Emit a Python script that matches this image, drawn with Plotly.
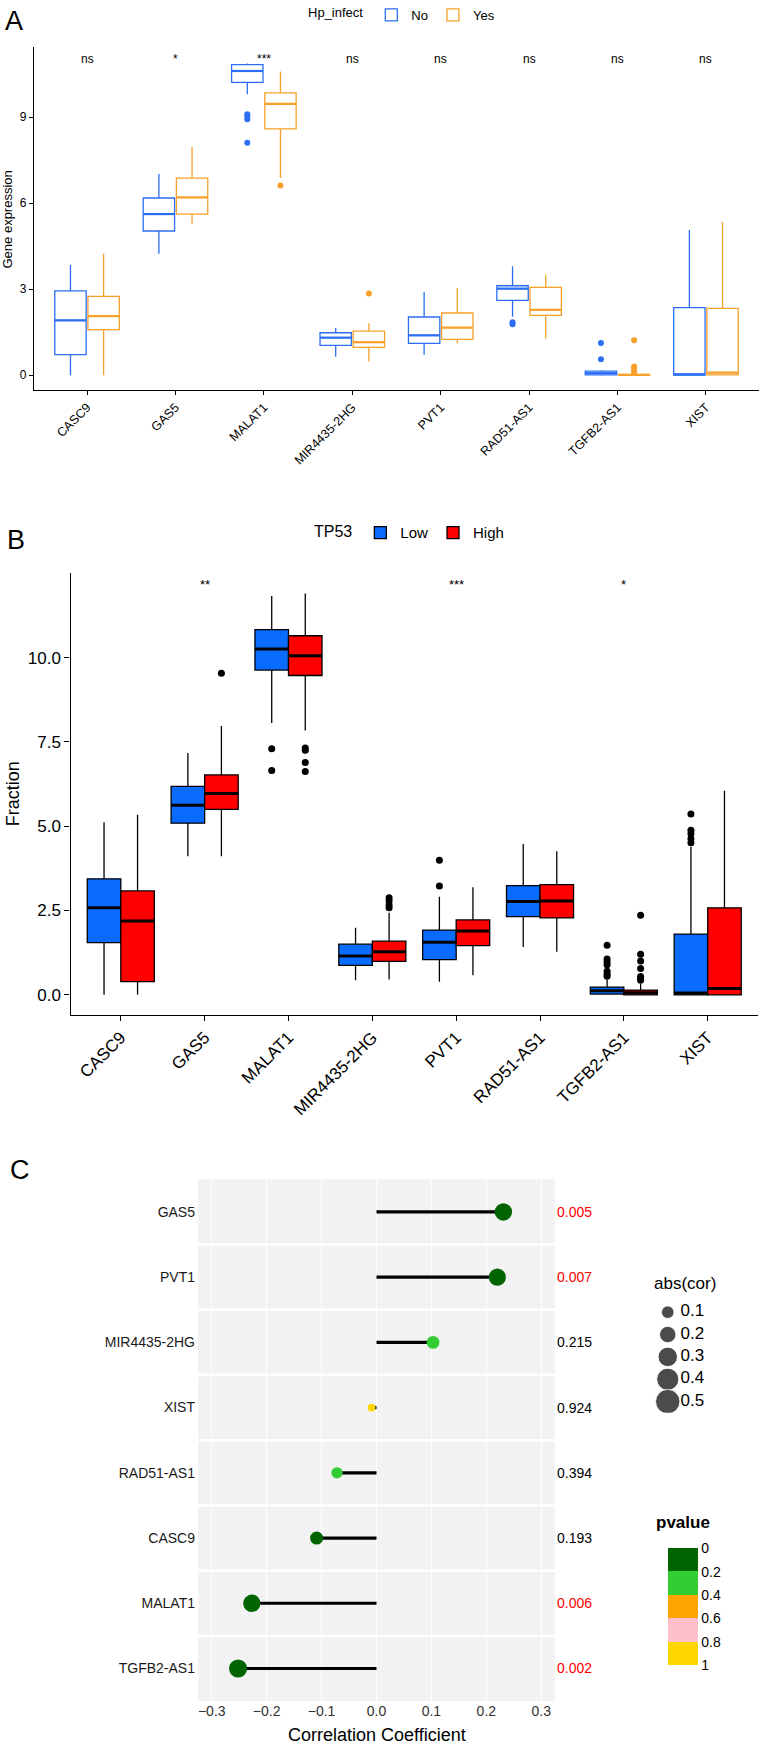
import plotly.graph_objects as go

W, H = 762, 1747
FONT = "Liberation Sans, Arial, Helvetica, sans-serif"

def px_x(p):
    return p / W

def px_y(p):
    return 1 - p / H

# ---------------- data ----------------
genes = ["CASC9", "GAS5", "MALAT1", "MIR4435-2HG", "PVT1", "RAD51-AS1", "TGFB2-AS1", "XIST"]

# Panel A : Hp_infect No / Yes
a_no_lo = [0.00, 4.24, 9.80, 0.64, 0.71, 2.04, 0.00, 0.00]
a_no_q1 = [0.72, 5.03, 10.21, 1.04, 1.11, 2.61, 0.01, 0.00]
a_no_med = [1.91, 5.62, 10.61, 1.31, 1.39, 3.02, 0.07, 0.03]
a_no_q3 = [2.94, 6.18, 10.83, 1.48, 2.03, 3.12, 0.14, 2.36]
a_no_hi = [3.84, 7.02, 10.87, 1.65, 2.90, 3.80, 0.17, 5.06]
a_no_out_gene = ["MALAT1", "MALAT1", "MALAT1", "MALAT1", "RAD51-AS1", "RAD51-AS1", "TGFB2-AS1", "TGFB2-AS1"]
a_no_out_val = [9.10, 9.02, 8.93, 8.11, 1.85, 1.78, 1.12, 0.56]

a_yes_lo = [0.00, 5.28, 6.88, 0.48, 1.11, 1.27, 0.00, 0.00]
a_yes_q1 = [1.59, 5.62, 8.59, 0.97, 1.25, 2.09, 0.00, 0.01]
a_yes_med = [2.06, 6.20, 9.46, 1.15, 1.66, 2.28, 0.01, 0.09]
a_yes_q3 = [2.75, 6.87, 9.85, 1.54, 2.17, 3.06, 0.03, 2.33]
a_yes_hi = [4.24, 7.97, 10.59, 1.81, 3.04, 3.50, 0.06, 5.34]
a_yes_out_gene = ["MALAT1", "MIR4435-2HG", "TGFB2-AS1", "TGFB2-AS1", "TGFB2-AS1", "TGFB2-AS1", "TGFB2-AS1"]
a_yes_out_val = [6.62, 2.85, 1.22, 0.30, 0.23, 0.15, 0.09]

a_sig = ["ns", "*", "***", "ns", "ns", "ns", "ns", "ns"]
a_sig_y = 11.03
a_yticks = [0, 3, 6, 9]

# Panel B : TP53 Low / High
b_low_lo = [0.00, 4.11, 8.06, 0.43, 0.39, 1.42, 0.00, 0.00]
b_low_q1 = [1.55, 5.09, 9.63, 0.87, 1.04, 2.32, 0.02, 0.00]
b_low_med = [2.58, 5.62, 10.26, 1.15, 1.56, 2.77, 0.12, 0.05]
b_low_q3 = [3.44, 6.18, 10.83, 1.50, 1.92, 3.24, 0.23, 1.80]
b_low_hi = [5.12, 7.17, 11.83, 1.99, 2.91, 4.47, 0.45, 4.39]
b_low_out_gene = ["MALAT1", "MALAT1", "PVT1", "PVT1",
                  "TGFB2-AS1", "TGFB2-AS1", "TGFB2-AS1", "TGFB2-AS1", "TGFB2-AS1", "TGFB2-AS1", "TGFB2-AS1",
                  "XIST", "XIST", "XIST", "XIST", "XIST"]
b_low_out_val = [7.30, 6.65, 3.99, 3.23,
                 1.47, 1.06, 0.97, 0.89, 0.70, 0.61, 0.55,
                 5.36, 4.88, 4.78, 4.63, 4.51]

b_high_lo = [0.00, 4.11, 7.84, 0.45, 0.58, 1.28, 0.00, 0.00]
b_high_q1 = [0.39, 5.50, 9.47, 0.99, 1.46, 2.28, 0.00, 0.00]
b_high_med = [2.19, 5.97, 10.06, 1.28, 1.89, 2.78, 0.06, 0.19]
b_high_q3 = [3.08, 6.52, 10.65, 1.59, 2.22, 3.27, 0.14, 2.58]
b_high_hi = [5.34, 7.97, 11.90, 2.43, 3.19, 4.26, 0.33, 6.05]
b_high_out_gene = ["GAS5", "MALAT1", "MALAT1", "MALAT1", "MALAT1",
                   "MIR4435-2HG", "MIR4435-2HG", "MIR4435-2HG", "MIR4435-2HG",
                   "TGFB2-AS1", "TGFB2-AS1", "TGFB2-AS1", "TGFB2-AS1", "TGFB2-AS1", "TGFB2-AS1", "TGFB2-AS1"]
b_high_out_val = [9.54, 7.32, 7.25, 6.89, 6.62,
                  2.88, 2.78, 2.66, 2.58,
                  2.36, 1.20, 1.00, 0.78, 0.54, 0.49, 0.43]

b_sig = ["", "**", "", "", "***", "", "*", ""]
b_sig_y = 12.17
b_yticks = [0.0, 2.5, 5.0, 7.5, 10.0]

# Panel C : correlation lollipop
c_genes = ["GAS5", "PVT1", "MIR4435-2HG", "XIST", "RAD51-AS1", "CASC9", "MALAT1", "TGFB2-AS1"]
c_cor = [0.231, 0.220, 0.103, -0.009, -0.072, -0.109, -0.227, -0.252]
c_p = [0.005, 0.007, 0.215, 0.924, 0.394, 0.193, 0.006, 0.002]
c_p_text = ["0.005", "0.007", "0.215", "0.924", "0.394", "0.193", "0.006", "0.002"]
c_xticks = [-0.3, -0.2, -0.1, 0.0, 0.1, 0.2, 0.3]
size_breaks = [0.1, 0.2, 0.3, 0.4, 0.5]
p_breaks = [0, 0.2, 0.4, 0.6, 0.8, 1]
p_colors = ["#006400", "#32CD32", "#FFA500", "#FFC0CB", "#FFD700"]

# ---------------- styles ----------------
A_NO, A_YES = "#2B6EF5", "#F7A12B"
B_LOW, B_HIGH = "#0A6CFF", "#FF0000"

fig = go.Figure()
gidx = {g: i + 1 for i, g in enumerate(genes)}


def add_group(xa, ya, off, width, lo, q1, med, q3, hi, fill, lcol, lw, name, legend,
              medcol, medw, out_gene, out_val, out_col, out_size):
    pos = [i + 1 + off for i in range(len(genes))]
    fig.add_trace(go.Box(
        x=pos, q1=q1, median=med, q3=q3, lowerfence=lo, upperfence=hi,
        orientation="v", width=width, fillcolor=fill,
        line=dict(color=lcol, width=lw), whiskerwidth=0, boxpoints=False,
        name=name, legend=legend, xaxis=xa, yaxis=ya, hoverinfo="skip"))
    mx, my = [], []
    for p, m in zip(pos, med):
        mx += [p - width / 2, p + width / 2, None]
        my += [m, m, None]
    fig.add_trace(go.Scatter(x=mx, y=my, mode="lines", line=dict(color=medcol, width=medw),
                             showlegend=False, xaxis=xa, yaxis=ya, hoverinfo="skip"))
    fig.add_trace(go.Scatter(x=[gidx[g] + off for g in out_gene], y=out_val, mode="markers",
                             marker=dict(color=out_col, size=out_size), showlegend=False,
                             xaxis=xa, yaxis=ya, hoverinfo="skip"))


# Panel A
add_group("x", "y", -0.1875, 0.355, a_no_lo, a_no_q1, a_no_med, a_no_q3, a_no_hi,
          "rgba(255,255,255,0)", A_NO, 1.3, "No", "legend", A_NO, 2.2,
          a_no_out_gene, a_no_out_val, A_NO, 6)
add_group("x", "y", 0.1875, 0.355, a_yes_lo, a_yes_q1, a_yes_med, a_yes_q3, a_yes_hi,
          "rgba(255,255,255,0)", A_YES, 1.3, "Yes", "legend", A_YES, 2.2,
          a_yes_out_gene, a_yes_out_val, A_YES, 6)

# Panel B
add_group("x2", "y2", -0.2, 0.4, b_low_lo, b_low_q1, b_low_med, b_low_q3, b_low_hi,
          B_LOW, "#000000", 1.3, "Low", "legend2", "#000000", 3,
          b_low_out_gene, b_low_out_val, "#000000", 7)
add_group("x2", "y2", 0.2, 0.4, b_high_lo, b_high_q1, b_high_med, b_high_q3, b_high_hi,
          B_HIGH, "#000000", 1.3, "High", "legend2", "#000000", 3,
          b_high_out_gene, b_high_out_val, "#000000", 7)

# Panel C
def pcolor(p):
    for k in range(len(p_colors)):
        if p < p_breaks[k + 1] or k == len(p_colors) - 1:
            return p_colors[k]

def dsize(v):
    return (50 + 1100 * abs(v)) ** 0.5

c_rows = list(range(1, len(c_genes) + 1))
sx, sy = [], []
for r, c in zip(c_rows, c_cor):
    sx += [0, c, None]
    sy += [r, r, None]
fig.add_trace(go.Scatter(x=sx, y=sy, mode="lines", line=dict(color="#000000", width=3.2),
                         showlegend=False, xaxis="x3", yaxis="y3", hoverinfo="skip"))
fig.add_trace(go.Scatter(x=c_cor, y=c_rows, mode="markers",
                         marker=dict(size=[dsize(v) for v in c_cor], color=[pcolor(p) for p in c_p],
                                     line=dict(width=0), opacity=1),
                         showlegend=False, xaxis="x3", yaxis="y3", hoverinfo="skip"))

# abs(cor) size legend (drawn on helper axes)
sb_rows = list(range(1, len(size_breaks) + 1))
fig.add_trace(go.Scatter(x=[0.15] * len(size_breaks), y=sb_rows, mode="markers",
                         marker=dict(size=[dsize(v) for v in size_breaks], color="#000000"),
                         showlegend=False, xaxis="x4", yaxis="y4", hoverinfo="skip"))
fig.add_trace(go.Scatter(x=[0.3] * len(size_breaks), y=sb_rows, mode="text",
                         text=[f"{v:.1f}" for v in size_breaks], textposition="middle right",
                         textfont=dict(size=17, color="#000000", family=FONT),
                         showlegend=False, xaxis="x4", yaxis="y4", hoverinfo="skip"))

# pvalue colour legend (colorbar; 0 shown at top)
cs = []
nbin = len(p_colors)
rev = p_colors[::-1]
for k, col in enumerate(rev):
    cs.append([k / nbin, col])
    cs.append([(k + 1) / nbin, col])
fig.add_trace(go.Scatter(
    x=[0.5], y=[1], mode="markers", xaxis="x4", yaxis="y4", showlegend=False, hoverinfo="skip",
    marker=dict(size=1, opacity=0, color=[0.5], colorscale=cs, cmin=0, cmax=1, showscale=True,
                colorbar=dict(x=px_x(668), xanchor="left", y=px_y(1606.5), yanchor="middle",
                              len=117 / H, lenmode="fraction", thickness=30, thicknessmode="pixels",
                              outlinewidth=0, xpad=0, ypad=0, ticks="",
                              tickvals=p_breaks,
                              ticktext=[str(v) if v not in (0, 1) else str(int(v)) for v in p_breaks[::-1]],
                              tickfont=dict(size=14, color="#000000", family=FONT)))))

# ---------------- layout ----------------
axis_common = dict(showgrid=False, zeroline=False, automargin=False)

shapes = [
    dict(type="rect", xref="x3 domain", yref="y3 domain", x0=0, x1=1, y0=0, y1=1,
         fillcolor="#F2F2F2", line=dict(width=0), layer="below"),
]
for r in c_rows[:-1]:
    shapes.append(dict(type="line", xref="x3 domain", yref="y3", x0=0, x1=1, y0=r + 0.5, y1=r + 0.5,
                       line=dict(color="#FFFFFF", width=2.5), layer="above"))

annotations = []
# panel letters
for letter, (lx, ly) in zip(["A", "B", "C"], [(14, 17), (16, 537), (19.5, 1169)]):
    annotations.append(dict(text=letter, x=px_x(lx), y=px_y(ly), xref="paper", yref="paper",
                            showarrow=False, xanchor="center", yanchor="middle",
                            font=dict(size=27, color="#000000", family=FONT)))
# significance labels
for i, s in enumerate(a_sig):
    annotations.append(dict(text=s, x=i + 1, y=a_sig_y, xref="x", yref="y", showarrow=False,
                            xanchor="center", font=dict(size=12, color="#000000", family=FONT)))
for i, s in enumerate(b_sig):
    if s:
        annotations.append(dict(text=s, x=i + 1, y=b_sig_y, xref="x2", yref="y2", showarrow=False,
                                xanchor="center", font=dict(size=13, color="#000000", family=FONT)))
# axis titles
annotations.append(dict(text="Gene expression", x=px_x(8), y=px_y(216), xref="paper", yref="paper",
                        textangle=-90, showarrow=False, xanchor="center", yanchor="middle",
                        font=dict(size=13, color="#000000", family=FONT)))
annotations.append(dict(text="Fraction", x=px_x(13), y=px_y(792), xref="paper", yref="paper",
                        textangle=-90, showarrow=False, xanchor="center", yanchor="middle",
                        font=dict(size=18, color="#000000", family=FONT)))
annotations.append(dict(text="Correlation Coefficient", x=px_x(377), y=px_y(1747), xref="paper", yref="paper",
                        showarrow=False, xanchor="center", yanchor="bottom",
                        font=dict(size=18, color="#000000", family=FONT)))
# p-value texts
for r, p, t in zip(c_rows, c_p, c_p_text):
    annotations.append(dict(text=t, x=px_x(555), y=r, xref="paper", yref="y3", xanchor="left",
                            showarrow=False, font=dict(size=14, color="#FF0000" if p < 0.05 else "#000000",
                                                       family=FONT)))
# legend titles for C
annotations.append(dict(text="abs(cor)", x=px_x(685), y=px_y(1282), xref="paper", yref="paper",
                        showarrow=False, xanchor="center", yanchor="middle",
                        font=dict(size=17, color="#000000", family=FONT)))
annotations.append(dict(text="<b>pvalue</b>", x=px_x(683), y=px_y(1522), xref="paper", yref="paper",
                        showarrow=False, xanchor="center", yanchor="middle",
                        font=dict(size=17, color="#000000", family=FONT)))

fig.update_layout(
    width=W, height=H, margin=dict(l=0, r=0, t=0, b=0),
    paper_bgcolor="#FFFFFF", plot_bgcolor="rgba(0,0,0,0)",
    font=dict(family=FONT, color="#000000"),
    boxmode="overlay",
    shapes=shapes, annotations=annotations,
    legend=dict(orientation="h", x=px_x(306), xanchor="left", y=px_y(11), yanchor="middle",
                title=dict(text="Hp_infect", side="left", font=dict(size=13)),
                font=dict(size=13), bgcolor="rgba(0,0,0,0)", itemwidth=30),
    legend2=dict(orientation="h", x=px_x(312), xanchor="left", y=px_y(530), yanchor="middle",
                 title=dict(text="TP53", side="left", font=dict(size=16)),
                 font=dict(size=15), bgcolor="rgba(0,0,0,0)", itemwidth=30),
    xaxis=dict(domain=[px_x(34), px_x(759)], anchor="y", range=[0.4, 8.6],
               tickvals=list(range(1, len(genes) + 1)), ticktext=genes, tickangle=-45,
               showline=True, linecolor="#000000", linewidth=1.1, ticks="outside", ticklen=4,
               tickcolor="#000000", tickfont=dict(size=12.5, color="#000000"), **axis_common),
    yaxis=dict(domain=[px_y(387), px_y(43)], anchor="x", range=[-0.52, 11.45],
               tickvals=a_yticks, showline=True, linecolor="#000000", linewidth=1.1, ticks="outside",
               ticklen=4, tickcolor="#000000", tickfont=dict(size=12, color="#000000"), **axis_common),
    xaxis2=dict(domain=[px_x(70.5), px_x(758)], anchor="y2", range=[0.4, 8.6],
                tickvals=list(range(1, len(genes) + 1)), ticktext=genes, tickangle=-45,
                showline=True, linecolor="#000000", linewidth=1.4, ticks="outside", ticklen=5,
                tickcolor="#000000", tickfont=dict(size=17, color="#000000"), **axis_common),
    yaxis2=dict(domain=[px_y(1013), px_y(570)], anchor="x2", range=[-0.59, 12.52],
                tickvals=b_yticks, tickformat=".1f", showline=True, linecolor="#000000", linewidth=1.4,
                ticks="outside", ticklen=5, tickcolor="#000000", tickfont=dict(size=17, color="#000000"),
                **axis_common),
    xaxis3=dict(domain=[px_x(198), px_x(555)], anchor="y3", range=[-0.325, 0.325],
                tickvals=c_xticks, tickformat=".1f", showgrid=True, gridcolor="#FFFFFF", gridwidth=1.3,
                zeroline=False, automargin=False, showline=False, ticks="",
                tickfont=dict(size=14, color="#333333")),
    yaxis3=dict(domain=[px_y(1701), px_y(1178)], anchor="x3", range=[len(c_genes) + 0.5, 0.5],
                tickvals=c_rows, ticktext=c_genes, showgrid=False, zeroline=False, automargin=False,
                showline=False, ticks="", ticklabelstandoff=2, tickfont=dict(size=14, color="#1A1A1A")),
    xaxis4=dict(domain=[px_x(655), px_x(740)], anchor="y4", range=[0, 1], visible=False,
                fixedrange=True),
    yaxis4=dict(domain=[px_y(1412), px_y(1300)], anchor="x4", range=[len(size_breaks) + 0.5, 0.5],
                visible=False, fixedrange=True),
)

fig.write_html("out.html", config={"displayModeBar": False},
               post_script="document.body.style.margin='0px';document.body.style.overflow='hidden';")
